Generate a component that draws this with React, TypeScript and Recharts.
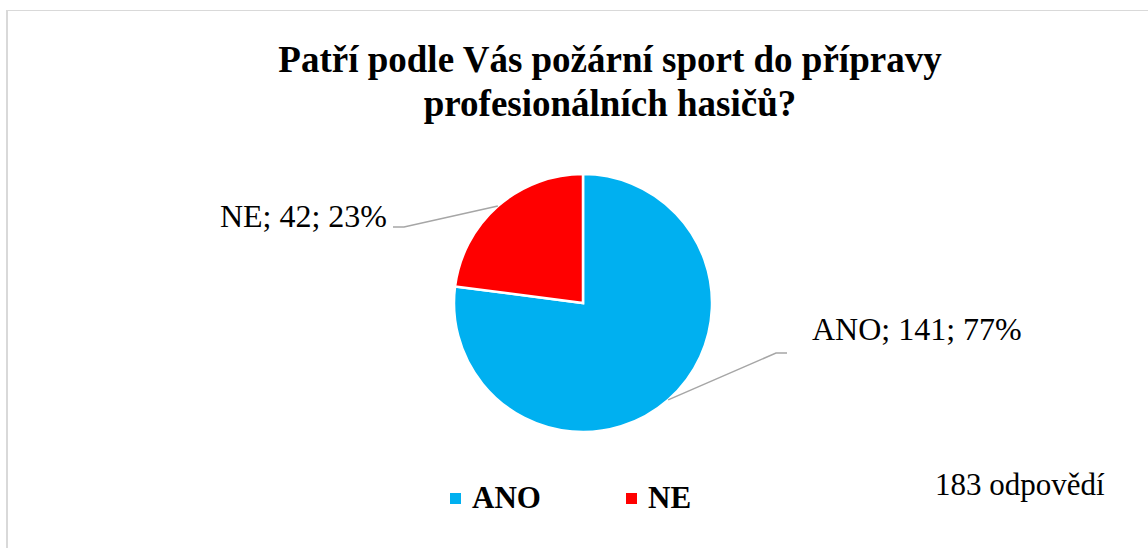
import { PieChart, Pie, Cell, Legend } from 'recharts';

const categories = ['ANO', 'NE'];
const counts = [141, 42];
const colors = ['#00B0F0', '#FF0000'];
const totalLabel = '183 odpovědí';
const titleLines = ['Patří podle Vás požární sport do přípravy', 'profesionálních hasičů?'];

const data = categories.map((name, i) => ({ name, value: counts[i] }));

// leader line / label placement relative to pie centre (hand tuned like the original)
const labelLayout: Record<string, { ex: number; ey: number; dir: number; tx: number; ty: number }> = {
  ANO: { ex: 193, ey: 50, dir: 1, tx: 229, ty: 37 },
  NE: { ex: -179, ey: -76, dir: -1, tx: -196, ty: -76 },
};

const FONT = 'Liberation Serif';
const RADIAN = Math.PI / 180;

const renderLabel = (props: any) => {
  const { cx, cy, midAngle, outerRadius, name, value, percent } = props;
  const l = labelLayout[name];
  const sx = cx + outerRadius * Math.cos(-midAngle * RADIAN);
  const sy = cy + outerRadius * Math.sin(-midAngle * RADIAN);
  const ex = cx + l.ex;
  const ey = cy + l.ey;
  return (
    <g>
      <polyline
        points={`${sx},${sy} ${ex},${ey} ${ex + l.dir * 11},${ey}`}
        fill="none"
        stroke="#a6a6a6"
        strokeWidth={1.5}
      />
      <text
        x={cx + l.tx}
        y={cy + l.ty}
        textAnchor={l.dir < 0 ? 'end' : 'start'}
        style={{ fontFamily: FONT, fontSize: 32 }}
        fill="#000"
      >
        {`${name}; ${value}; ${Math.round(percent * 100)}%`}
      </text>
    </g>
  );
};

const renderLegend = (props: any) => {
  const { payload } = props;
  return (
    <div style={{ display: 'flex', alignItems: 'center' }}>
      {payload.map((entry: any) => (
        <div key={entry.value} style={{ display: 'flex', alignItems: 'center', width: 176 }}>
          <span style={{ width: 11, height: 11, background: entry.color, display: 'inline-block', marginRight: 11 }} />
          <span style={{ fontFamily: FONT, fontWeight: 'bold', fontSize: 31, color: '#000', lineHeight: '34px' }}>
            {entry.value}
          </span>
        </div>
      ))}
    </div>
  );
};

export default function App() {
  return (
    <div style={{ position: 'absolute', left: 0, top: 0, width: 1148, height: 548, background: '#fff', overflow: 'hidden', fontFamily: FONT }}>
      <div
        style={{
          position: 'absolute',
          left: 6,
          top: 10,
          width: 1160,
          height: 560,
          borderLeft: '2px solid #d9d9d9',
          borderTop: '1px solid #d9d9d9',
        }}
      />
      <svg width={1148} height={548} style={{ position: 'absolute', left: 0, top: 0 }}>
        {titleLines.map((t, i) => (
          <text
            key={t}
            x={610}
            y={72 + i * 44}
            textAnchor="middle"
            style={{ fontFamily: FONT, fontWeight: 'bold', fontSize: 37 }}
            fill="#000"
          >
            {t}
          </text>
        ))}
        <text x={935} y={495} style={{ fontFamily: FONT, fontSize: 31 }} fill="#000">
          {totalLabel}
        </text>
      </svg>
      <div style={{ position: 'absolute', left: 0, top: 0 }}>
        <PieChart width={1148} height={548} margin={{ top: 0, right: 0, bottom: 0, left: 0 }}>
          <Pie
            data={data}
            dataKey="value"
            nameKey="name"
            cx={583}
            cy={303}
            outerRadius={129}
            startAngle={90}
            endAngle={-270}
            stroke="#fff"
            strokeWidth={2.5}
            label={renderLabel}
            labelLine={false}
            isAnimationActive={false}
          >
            {data.map((d, i) => (
              <Cell key={d.name} fill={colors[i]} />
            ))}
          </Pie>
          <Legend
            content={renderLegend}
            wrapperStyle={{ left: 450, top: 481, width: 360, bottom: 'auto' }}
          />
        </PieChart>
      </div>
    </div>
  );
}
